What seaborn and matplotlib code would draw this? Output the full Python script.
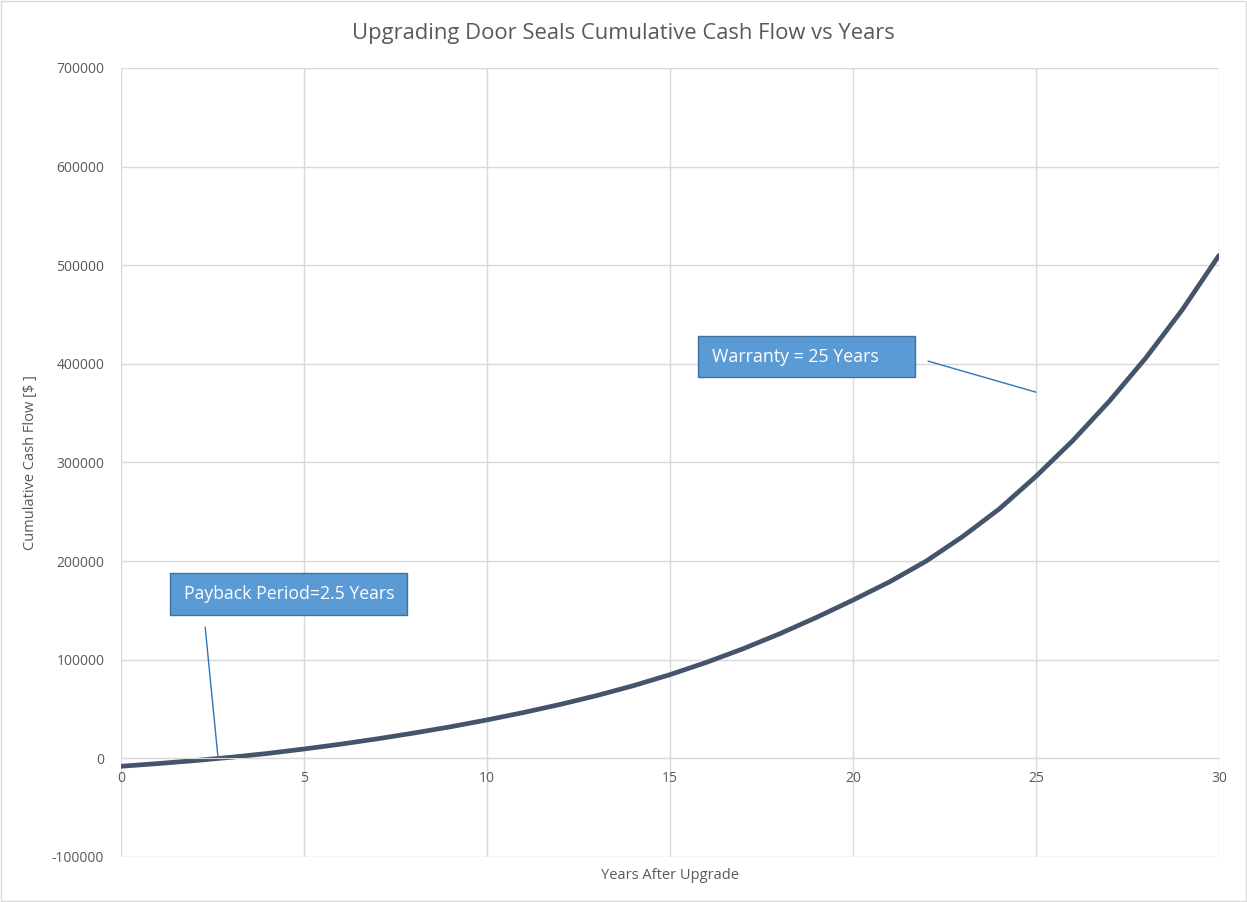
import numpy as np
import pandas as pd
import matplotlib.pyplot as plt
import seaborn as sns
from matplotlib.patches import Rectangle

# values
years = list(range(0, 31))
cash_flow = [-8000, -5300, -2300, 1100, 5000, 9500, 14400, 19800, 25700, 32000,
             39000, 46500, 54700, 63700, 73700, 84900, 97400, 111200, 126400, 142900,
             160500, 179000, 200000, 225000, 253000, 286000, 322000, 362000, 406000,
             455000, 510000]
y_ticks = list(range(-100000, 700001, 100000))
x_ticks = [0, 5, 10, 15, 20, 25, 30]

TITLE = "Upgrading Door Seals Cumulative Cash Flow vs Years"
payback_text = "Payback Period=2.5 Years"
warranty_text = "Warranty = 25 Years"

df = pd.DataFrame({"Years": years, "Cash": cash_flow})

sns.set_style("white")
plt.rcParams['font.family'] = ['Open Sans', 'DejaVu Sans']

grid_col = '#d9d9d9'
text_col = '#595959'
line_col = '#44546A'
box_face = '#5B9BD5'
box_edge = '#41719C'

fig = plt.figure(figsize=(12.47, 9.02), dpi=100)
ax = fig.add_axes([121 / 1247, 45 / 902, 1098 / 1247, 789 / 902])

sns.lineplot(data=df, x="Years", y="Cash", ax=ax, color=line_col, linewidth=3.4,
             solid_capstyle='round', solid_joinstyle='round')

ax.set_xlim(0, 30)
ax.set_ylim(-100000, 700000)
ax.set_xticks(x_ticks)
ax.set_yticks(y_ticks)
ax.set_yticklabels([str(v) for v in y_ticks])
ax.grid(True, color=grid_col, linewidth=1)
ax.set_axisbelow(True)

for side in ['top', 'right', 'left']:
    ax.spines[side].set_visible(False)
ax.spines['bottom'].set_position(('data', 0))
ax.spines['bottom'].set_color(grid_col)
ax.tick_params(axis='both', length=0, labelsize=10, labelcolor=text_col)
ax.tick_params(axis='y', pad=12)
ax.tick_params(axis='x', pad=9)

ax.set_xlabel("")
ax.set_ylabel("Cumulative Cash Flow [$ ]", fontsize=10.5, color=text_col, labelpad=10)
ax.text(0.5, -0.014, "Years After Upgrade", transform=ax.transAxes, ha='center',
        va='top', fontsize=10.5, color=text_col)

fig.suptitle(TITLE, y=0.975, fontsize=15.8, color=text_col)

# callout boxes
ax.add_patch(Rectangle((1.34, 145100), 6.47, 42600, facecolor=box_face,
                       edgecolor=box_edge, linewidth=1, zorder=4))
ax.text(1.72, 166400, payback_text, color='white', fontsize=12.7, va='center',
        ha='left', zorder=5)
ax.plot([2.30, 2.65], [132900, 1000], color='#2E75B6', linewidth=1, zorder=4)

ax.add_patch(Rectangle((15.77, 386500), 5.92, 41600, facecolor=box_face,
                       edgecolor=box_edge, linewidth=1, zorder=4))
ax.text(16.15, 407300, warranty_text, color='white', fontsize=12.8, va='center',
        ha='left', zorder=5)
ax.plot([22.05, 25.0], [402800, 371300], color='#2E75B6', linewidth=1, zorder=4)

fig.patches.append(Rectangle((0.001, 0.001), 0.998, 0.998, transform=fig.transFigure,
                             fill=False, edgecolor=grid_col, linewidth=1))

fig.savefig("out.png", dpi=100)
plt.close(fig)
